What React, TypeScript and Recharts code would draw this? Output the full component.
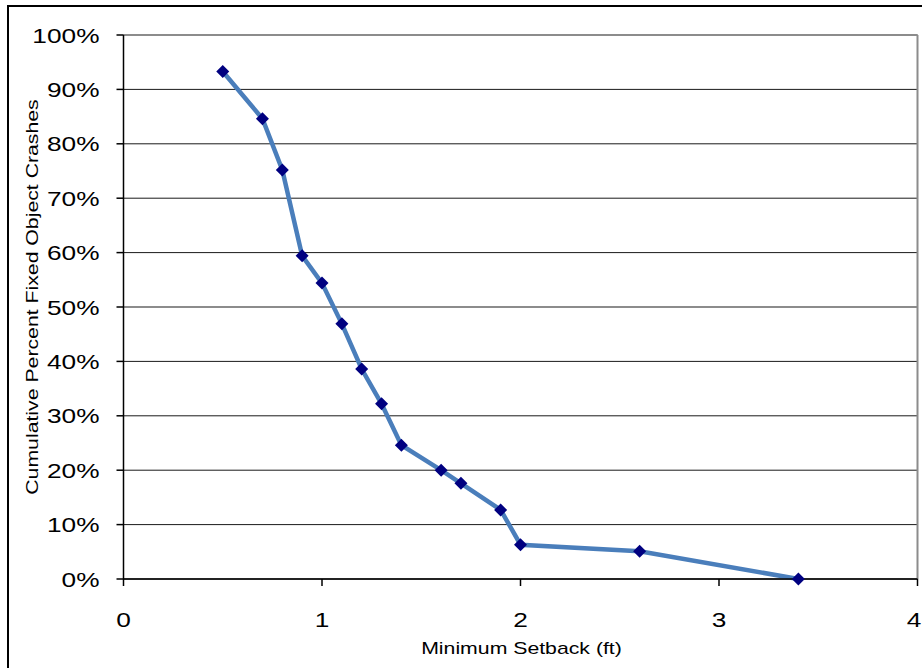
import React from 'react';
import { LineChart, Line, XAxis, YAxis, CartesianGrid, ReferenceLine } from 'recharts';

const setbackFt = [0.5, 0.7, 0.8, 0.9, 1.0, 1.1, 1.2, 1.3, 1.4, 1.6, 1.7, 1.9, 2.0, 2.6, 3.4];
const cumulativePct = [93.3, 84.6, 75.2, 59.4, 54.4, 46.9, 38.6, 32.2, 24.6, 20.0, 17.6, 12.7, 6.3, 5.1, 0];
const xTicks = [0, 1, 2, 3, 4];
const yTicks = [0, 10, 20, 30, 40, 50, 60, 70, 80, 90, 100];
const xTitle = 'Minimum Setback (ft)';
const yTitle = 'Cumulative Percent Fixed Object Crashes';

const data = setbackFt.map((x, i) => ({ x, y: cumulativePct[i] }));

const FONT = '"Liberation Sans", Arial, sans-serif';
const STRETCH = 1.25;
const CHART_W = 922;

const XTick = (props: any) => {
  const { x, y, payload } = props;
  // keep the last label's ink inside the picture edge
  const tx = Math.min(x, CHART_W - 8);
  return (
    <text
      transform={`translate(${tx},${y + 39}) scale(${STRETCH},1)`}
      textAnchor="middle"
      fontFamily={FONT}
      fontSize={21}
      fill="#000"
    >
      {payload.value}
    </text>
  );
};

const YTick = (props: any) => {
  const { x, y, payload } = props;
  return (
    <text
      transform={`translate(${x - 15},${y + 7.5}) scale(${STRETCH},1)`}
      textAnchor="end"
      fontFamily={FONT}
      fontSize={21}
      fill="#000"
    >
      {`${payload.value}%`}
    </text>
  );
};

const Diamond = (props: any) => {
  const { cx, cy } = props;
  if (cx == null || cy == null) return null;
  const r = 6.5;
  return (
    <polygon
      points={`${cx},${cy - r} ${cx + r},${cy} ${cx},${cy + r} ${cx - r},${cy}`}
      fill="#000080"
      stroke="none"
    />
  );
};

const YTitle = (props: any) => {
  const vb = props.viewBox || { x: 23.5, y: 35, width: 100, height: 544 };
  const cx = 38;
  const cy = vb.y + vb.height / 2 - 10;
  return (
    <text
      transform={`translate(${cx},${cy}) rotate(-90) scale(${STRETCH},1)`}
      textAnchor="middle"
      fontFamily={FONT}
      fontSize={17}
      fill="#000"
    >
      {yTitle}
    </text>
  );
};

const XTitle = (props: any) => {
  const vb = props.viewBox || { x: 123.5, y: 579, width: 794, height: 60 };
  const cx = vb.x + vb.width / 2 + 1;
  return (
    <text
      transform={`translate(${cx},654) scale(${STRETCH},1)`}
      textAnchor="middle"
      fontFamily={FONT}
      fontSize={17}
      fill="#000"
    >
      {xTitle}
    </text>
  );
};

export default function App() {
  return (
    <div style={{ position: 'absolute', left: 0, top: 0, width: 922, height: 668, background: '#fff', overflow: 'hidden' }}>
      <LineChart
        width={CHART_W}
        height={668}
        data={data}
        margin={{ top: 35, right: 4.5, bottom: 29, left: 23.5 }}
      >
        <CartesianGrid horizontal={true} vertical={false} stroke="#000" strokeWidth={1} strokeOpacity={0.9} />
        <ReferenceLine y={100} stroke="#8c8c8c" strokeWidth={2} />
        <ReferenceLine x={4} stroke="#8c8c8c" strokeWidth={2} />
        <XAxis
          dataKey="x"
          type="number"
          domain={[0, 4]}
          ticks={xTicks}
          interval={0}
          height={60}
          axisLine={{ stroke: '#000', strokeWidth: 1.5 }}
          tickLine={{ stroke: '#000', strokeWidth: 1.5 }}
          tickSize={7}
          tick={<XTick />}
          label={<XTitle />}
        />
        <YAxis
          dataKey="y"
          type="number"
          domain={[0, 100]}
          ticks={yTicks}
          interval={0}
          width={100}
          axisLine={{ stroke: '#000', strokeWidth: 1.5 }}
          tickLine={{ stroke: '#000', strokeWidth: 1.5 }}
          tickSize={7}
          tick={<YTick />}
          label={<YTitle />}
        />
        <Line
          type="linear"
          dataKey="y"
          stroke="#4a7ebb"
          strokeWidth={4.5}
          dot={(p: any) => <Diamond key={`d-${p.index}`} cx={p.cx} cy={p.cy} />}
          activeDot={false}
          isAnimationActive={false}
        />
      </LineChart>
      <div
        style={{
          position: 'absolute',
          left: 7,
          top: 5,
          width: 915,
          height: 663,
          borderLeft: '2.5px solid #000',
          borderTop: '2.5px solid #000',
          boxSizing: 'border-box',
          pointerEvents: 'none',
        }}
      />
    </div>
  );
}
